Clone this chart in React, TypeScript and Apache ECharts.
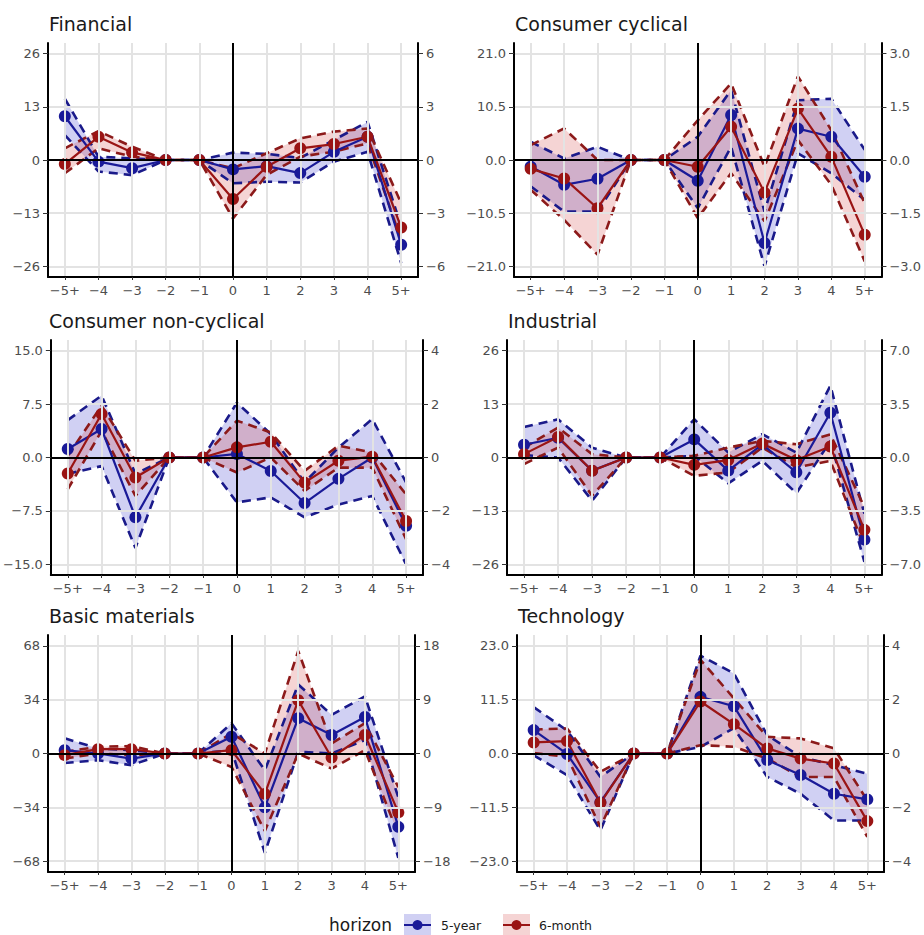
import React, { useEffect, useRef } from "react";
import * as echarts from "echarts";

const categories = ["−5+", "−4", "−3", "−2", "−1", "0", "1", "2", "3", "4", "5+"];
const panelTitles = ["Financial", "Consumer cyclical", "Consumer non-cyclical", "Industrial", "Basic materials", "Technology"];
const legendLabels = ["5-year", "6-month"];
const legendTitle = "horizon";

// axis tick values (left: 5-year, right: 6-month)
const finLeftTicks = [-26, -13, 0, 13, 26];
const finRightTicks = [-6, -3, 0, 3, 6];
const cycLeftTicks = [-21, -10.5, 0, 10.5, 21];
const cycRightTicks = [-3, -1.5, 0, 1.5, 3];
const ncLeftTicks = [-15, -7.5, 0, 7.5, 15];
const ncRightTicks = [-4, -2, 0, 2, 4];
const indLeftTicks = [-26, -13, 0, 13, 26];
const indRightTicks = [-7, -3.5, 0, 3.5, 7];
const basLeftTicks = [-68, -34, 0, 34, 68];
const basRightTicks = [-18, -9, 0, 9, 18];
const tecLeftTicks = [-23, -11.5, 0, 11.5, 23];
const tecRightTicks = [-4, -2, 0, 2, 4];

// Financial
const fin5y = [10.7, -0.4, -2.0, 0, 0, -2.3, -1.5, -3.2, 2.0, 5.7, -20.7];
const fin5yLo = [6.1, -2.8, -3.7, 0, 0, -5.7, -5.3, -5.5, -0.4, 2.0, -25.2];
const fin5yHi = [15.0, 0.8, 0.4, 0, 0, 1.8, 1.5, 0.5, 4.9, 9.3, -16.2];
const fin6m = [-0.23, 1.31, 0.43, 0, 0, -2.2, -0.38, 0.66, 0.9, 1.31, -3.81];
const fin6mLo = [-0.75, 0.66, 0.19, 0, 0, -3.3, -0.84, 0.19, 0.47, 0.94, -4.5];
const fin6mHi = [0.66, 1.63, 0.75, 0, 0, -0.47, 0.38, 1.22, 1.6, 1.78, -2.44];

// Consumer cyclical
const cyc5y = [-1.3, -4.9, -3.7, 0, 0, -4.1, 8.9, -16.4, 6.2, 4.6, -3.3];
const cyc5yLo = [-5.2, -10.2, -10.2, 0, 0, -9.5, 2.6, -21.0, 1.3, -2.6, -7.9];
const cyc5yHi = [3.6, 0.3, 2.6, 0, 0, 4.6, 13.8, -10.2, 11.8, 12.1, 2.0];
const cyc6m = [-0.25, -0.52, -1.36, 0, 0, -0.19, 0.94, -0.92, 1.45, 0.09, -2.11];
const cyc6mLo = [-0.84, -1.69, -2.67, 0, 0, -1.64, -0.37, -1.73, 0.56, -0.7, -2.86];
const cyc6mHi = [0.42, 0.89, 0, 0, 0, 1.12, 2.16, -0.19, 2.36, 0.84, -1.22];

// Consumer non-cyclical
const nc5y = [1.2, 4.0, -8.4, 0, 0, 0.5, -1.9, -6.4, -3.0, 0, -9.6];
const nc5yLo = [-2.3, -1.2, -12.7, 0, 0, -6.3, -5.6, -8.4, -6.6, -5.4, -15.0];
const nc5yHi = [5.25, 8.7, -2.3, 0, 0, 7.7, 3.3, -3.5, 1.4, 5.4, -3.5];
const nc6m = [-0.6, 1.63, -0.75, 0, 0, 0.38, 0.59, -0.94, -0.12, 0.03, -2.38];
const nc6mLo = [-1.19, 1.0, -1.44, 0, 0, -0.56, 0, -1.25, -0.38, -0.38, -3.06];
const nc6mHi = [0.06, 1.94, -0.12, 0, 0, 1.38, 0.94, -0.5, 0.44, 0.19, -1.38];

// Industrial
const ind5y = [3.1, 4.8, -3.2, 0, 0, 4.4, -3.2, 3.2, -3.6, 10.9, -20.0];
const ind5yLo = [0.6, 0, -10.5, 0, 0, 0.4, -6.3, -0.8, -8.7, 4.0, -25.4];
const ind5yHi = [7.4, 9.3, 2.4, 0, 0, 9.3, 1.2, 5.7, 1.2, 17.5, -13.7];
const ind6m = [0.22, 1.35, -0.87, 0, 0, -0.48, -0.17, 0.91, -0.17, 0.72, -4.74];
const ind6mLo = [-0.43, 0.65, -2.5, 0, 0, -1.2, -0.98, 0.65, -0.65, -0.22, -5.87];
const ind6mHi = [0.65, 1.96, 0.22, 0, 0, 0.11, 0.65, 1.09, 0.87, 1.52, -3.26];

// Basic materials
const bas5y = [2.1, 0, -3.2, 0, 0, 10.6, -34, 22.3, 11.7, 23, -46.3];
const bas5yLo = [-6, -4.2, -7.4, 0, 0, 2.1, -62.7, 1.1, 0, 8.5, -65.9];
const bas5yHi = [9.6, 3.2, 2.1, 0, 0, 19.1, -10.6, 43.6, 24.4, 36.1, -27.6];
const bas6m = [-0.28, 0.73, 0.73, 0, 0, 0.56, -6.75, 8.89, -0.67, 3.09, -9.84];
const bas6mLo = [-0.84, 0, -0.28, 0, 0, -2.25, -12.94, 0, -2.53, 0.56, -13.5];
const bas6mHi = [0.28, 1.12, 1.24, 0, 0, 3.37, 0, 17.15, 1.69, 5.06, -5.62];

// Technology
const tec5y = [5.0, -0.1, -10.4, 0, 0, 12.1, 10.1, -1.4, -4.6, -8.6, -9.8];
const tec5yLo = [-0.4, -4.6, -16.4, 0, 0, 1.4, 5.4, -5.0, -8.6, -14.3, -14.3];
const tec5yHi = [9.9, 4.9, -5.0, 0, 0, 20.9, 17.1, 3.9, -0.7, -2.5, -4.3];
const tec6m = [0.41, 0.46, -1.83, 0, 0, 1.93, 1.09, 0.19, -0.19, -0.37, -2.51];
const tec6mLo = [0.02, -0.12, -2.73, 0, 0, 0.31, 0.25, -0.19, -0.87, -0.87, -3.1];
const tec6mHi = [0.89, 0.93, -0.68, 0, 0, 3.48, 2.05, 0.62, 0.56, 0.19, -1.74];

const FONT = "DejaVu Sans, Verdana, sans-serif";
const BLUE = "#1a1a98";
const BLUE_DASH = "#1a1a8a";
const RED = "#9a1414";
const RED_DASH = "#8c1a1a";
const BLUE_FILL = "rgba(40,40,200,0.22)";
const RED_FILL = "rgba(210,60,60,0.22)";
const GRID_COL = "#e3e3e3";

const panels = [
  { title: panelTitles[0], box: [48, 43, 370, 234], lt: finLeftTicks, rt: finRightTicks, ld: 0, rd: 0,
    b: [fin5y, fin5yLo, fin5yHi], r: [fin6m, fin6mLo, fin6mHi] },
  { title: panelTitles[1], box: [514, 43, 370, 234], lt: cycLeftTicks, rt: cycRightTicks, ld: 1, rd: 1,
    b: [cyc5y, cyc5yLo, cyc5yHi], r: [cyc6m, cyc6mLo, cyc6mHi] },
  { title: panelTitles[2], box: [48, 340, 375, 235], lt: ncLeftTicks, rt: ncRightTicks, ld: 1, rd: 0,
    b: [nc5y, nc5yLo, nc5yHi], r: [nc6m, nc6mLo, nc6mHi] },
  { title: panelTitles[3], box: [507, 340, 377, 235], lt: indLeftTicks, rt: indRightTicks, ld: 0, rd: 1,
    b: [ind5y, ind5yLo, ind5yHi], r: [ind6m, ind6mLo, ind6mHi] },
  { title: panelTitles[4], box: [48, 635, 367, 237], lt: basLeftTicks, rt: basRightTicks, ld: 0, rd: 0,
    b: [bas5y, bas5yLo, bas5yHi], r: [bas6m, bas6mLo, bas6mHi] },
  { title: panelTitles[5], box: [517, 635, 367, 237], lt: tecLeftTicks, rt: tecRightTicks, ld: 1, rd: 0,
    b: [tec5y, tec5yLo, tec5yHi], r: [tec6m, tec6mLo, tec6mHi] },
];

const fmt = (d: number) => (v: number) => {
  const s = Math.abs(v) < 1e-9 ? (0).toFixed(d) : v.toFixed(d);
  return s.replace("-", "−");
};

const idx = categories.map((_, i) => i);
const pairs = (arr: number[]) => arr.map((v, i) => [i, v]);

function ribbon(xi: number, yi: number, lo: number[], hi: number[], fill: string) {
  return {
    type: "custom",
    xAxisIndex: xi,
    yAxisIndex: yi,
    silent: true,
    z: 1,
    data: [[0, 0]],
    renderItem: (_params: any, api: any) => {
      const top = hi.map((v, i) => api.coord([i, v]));
      const bot = lo.map((v, i) => api.coord([i, v])).reverse();
      return { type: "polygon", shape: { points: top.concat(bot) }, style: { fill, stroke: "none" } };
    },
  };
}

function dashed(xi: number, yi: number, arr: number[], color: string) {
  return {
    type: "line",
    xAxisIndex: xi,
    yAxisIndex: yi,
    data: pairs(arr),
    symbol: "none",
    silent: true,
    z: 3,
    lineStyle: { color, width: 2.6, type: [9, 6] },
  };
}

function midLine(xi: number, yi: number, arr: number[], color: string) {
  return {
    type: "line",
    xAxisIndex: xi,
    yAxisIndex: yi,
    data: pairs(arr),
    symbol: "circle",
    symbolSize: 12,
    silent: true,
    z: 4,
    lineStyle: { color, width: 2.2 },
    itemStyle: { color, borderWidth: 0 },
  };
}

function buildOption() {
  const grid: any[] = [];
  const xAxis: any[] = [];
  const yAxis: any[] = [];
  const series: any[] = [];
  const graphic: any[] = [];

  panels.forEach((p, k) => {
    const [l, t, w, h] = p.box;
    grid.push({ left: l, top: t, width: w, height: h, containLabel: false });
    xAxis.push({
      gridIndex: k,
      type: "value",
      min: -0.5,
      max: 10.5,
      z: 10,
      axisLine: { show: true, onZero: false, lineStyle: { color: "#000", width: 2 } },
      axisTick: { show: true, customValues: idx, length: 3, lineStyle: { color: "#333", width: 1 } },
      axisLabel: {
        customValues: idx,
        formatter: (v: number) => categories[Math.round(v)],
        color: "#4d4d4d",
        fontSize: 13,
        fontFamily: FONT,
        margin: 7,
      },
      splitLine: { show: false },
    });
    const lm = p.lt[p.lt.length - 1] * 1.1;
    const rm = p.rt[p.rt.length - 1] * 1.1;
    yAxis.push({
      gridIndex: k,
      type: "value",
      position: "left",
      min: -lm,
      max: lm,
      z: 10,
      axisLine: { show: true, onZero: false, lineStyle: { color: "#000", width: 2 } },
      axisTick: { show: true, customValues: p.lt, length: 5, lineStyle: { color: "#333", width: 1 } },
      axisLabel: { customValues: p.lt, formatter: fmt(p.ld), color: "#4d4d4d", fontSize: 13, fontFamily: FONT, margin: 8 },
      splitLine: { show: false },
    });
    yAxis.push({
      gridIndex: k,
      type: "value",
      position: "right",
      min: -rm,
      max: rm,
      z: 10,
      axisLine: { show: true, onZero: false, lineStyle: { color: "#000", width: 2 } },
      axisTick: { show: true, customValues: p.rt, length: 5, lineStyle: { color: "#333", width: 1 } },
      axisLabel: { customValues: p.rt, formatter: fmt(p.rd), color: "#4d4d4d", fontSize: 13, fontFamily: FONT, margin: 8 },
      splitLine: { show: false },
    });
    const yl = 2 * k;
    const yr = 2 * k + 1;
    // gridlines
    series.push({
      type: "line",
      xAxisIndex: k,
      yAxisIndex: yl,
      data: [],
      silent: true,
      z: 0,
      markLine: {
        silent: true,
        symbol: ["none", "none"],
        label: { show: false },
        lineStyle: { color: GRID_COL, width: 2, type: "solid" },
        data: [...idx.map((i) => ({ xAxis: i })), ...p.lt.map((v) => ({ yAxis: v }))],
      },
    });
    series.push(ribbon(k, yl, p.b[1], p.b[2], BLUE_FILL));
    series.push(ribbon(k, yr, p.r[1], p.r[2], RED_FILL));
    // zero reference lines
    series.push({
      type: "line",
      xAxisIndex: k,
      yAxisIndex: yl,
      data: [],
      silent: true,
      z: 2,
      markLine: {
        silent: true,
        symbol: ["none", "none"],
        label: { show: false },
        lineStyle: { color: "#000", width: 2, type: "solid" },
        data: [{ xAxis: 5 }, { yAxis: 0 }],
      },
    });
    series.push(dashed(k, yl, p.b[1], BLUE_DASH));
    series.push(dashed(k, yl, p.b[2], BLUE_DASH));
    series.push(dashed(k, yr, p.r[1], RED_DASH));
    series.push(dashed(k, yr, p.r[2], RED_DASH));
    series.push(midLine(k, yl, p.b[0], BLUE));
    series.push(midLine(k, yr, p.r[0], RED));

    graphic.push({
      type: "text",
      x: l + 1,
      y: t - 19,
      style: { text: p.title, fontSize: 19, fontFamily: FONT, fill: "#1a1a1a", verticalAlign: "middle", align: "left" },
    });
  });

  // legend
  const ly = 925;
  graphic.push({
    type: "text",
    x: 329,
    y: ly,
    style: { text: legendTitle, fontSize: 17, fontFamily: FONT, fill: "#1a1a1a", verticalAlign: "middle" },
  });
  const keys = [
    { x: 404, fill: BLUE_FILL, col: BLUE, label: legendLabels[0], tx: 441 },
    { x: 503, fill: RED_FILL, col: RED, label: legendLabels[1], tx: 539 },
  ];
  keys.forEach((kk) => {
    graphic.push({ type: "rect", shape: { x: kk.x, y: ly - 11, width: 27, height: 22 }, style: { fill: kk.fill } });
    graphic.push({ type: "line", shape: { x1: kk.x, y1: ly, x2: kk.x + 27, y2: ly }, style: { stroke: kk.col, lineWidth: 2 } });
    graphic.push({ type: "circle", shape: { cx: kk.x + 13.5, cy: ly, r: 5 }, style: { fill: kk.col } });
    graphic.push({
      type: "text",
      x: kk.tx,
      y: ly,
      style: { text: kk.label, fontSize: 12.5, fontFamily: FONT, fill: "#1a1a1a", verticalAlign: "middle" },
    });
  });

  return {
    animation: false,
    backgroundColor: "#ffffff",
    textStyle: { fontFamily: FONT },
    grid,
    xAxis,
    yAxis,
    series,
    graphic,
  };
}

export default function App() {
  const ref = useRef<HTMLDivElement>(null);
  useEffect(() => {
    if (!ref.current) return;
    const chart = echarts.init(ref.current, undefined, { renderer: "svg" });
    chart.setOption(buildOption() as any);
    return () => chart.dispose();
  }, []);
  return (
    <div
      ref={ref}
      style={{ position: "absolute", left: 0, top: 0, width: 924, height: 935, background: "#fff" }}
    />
  );
}
